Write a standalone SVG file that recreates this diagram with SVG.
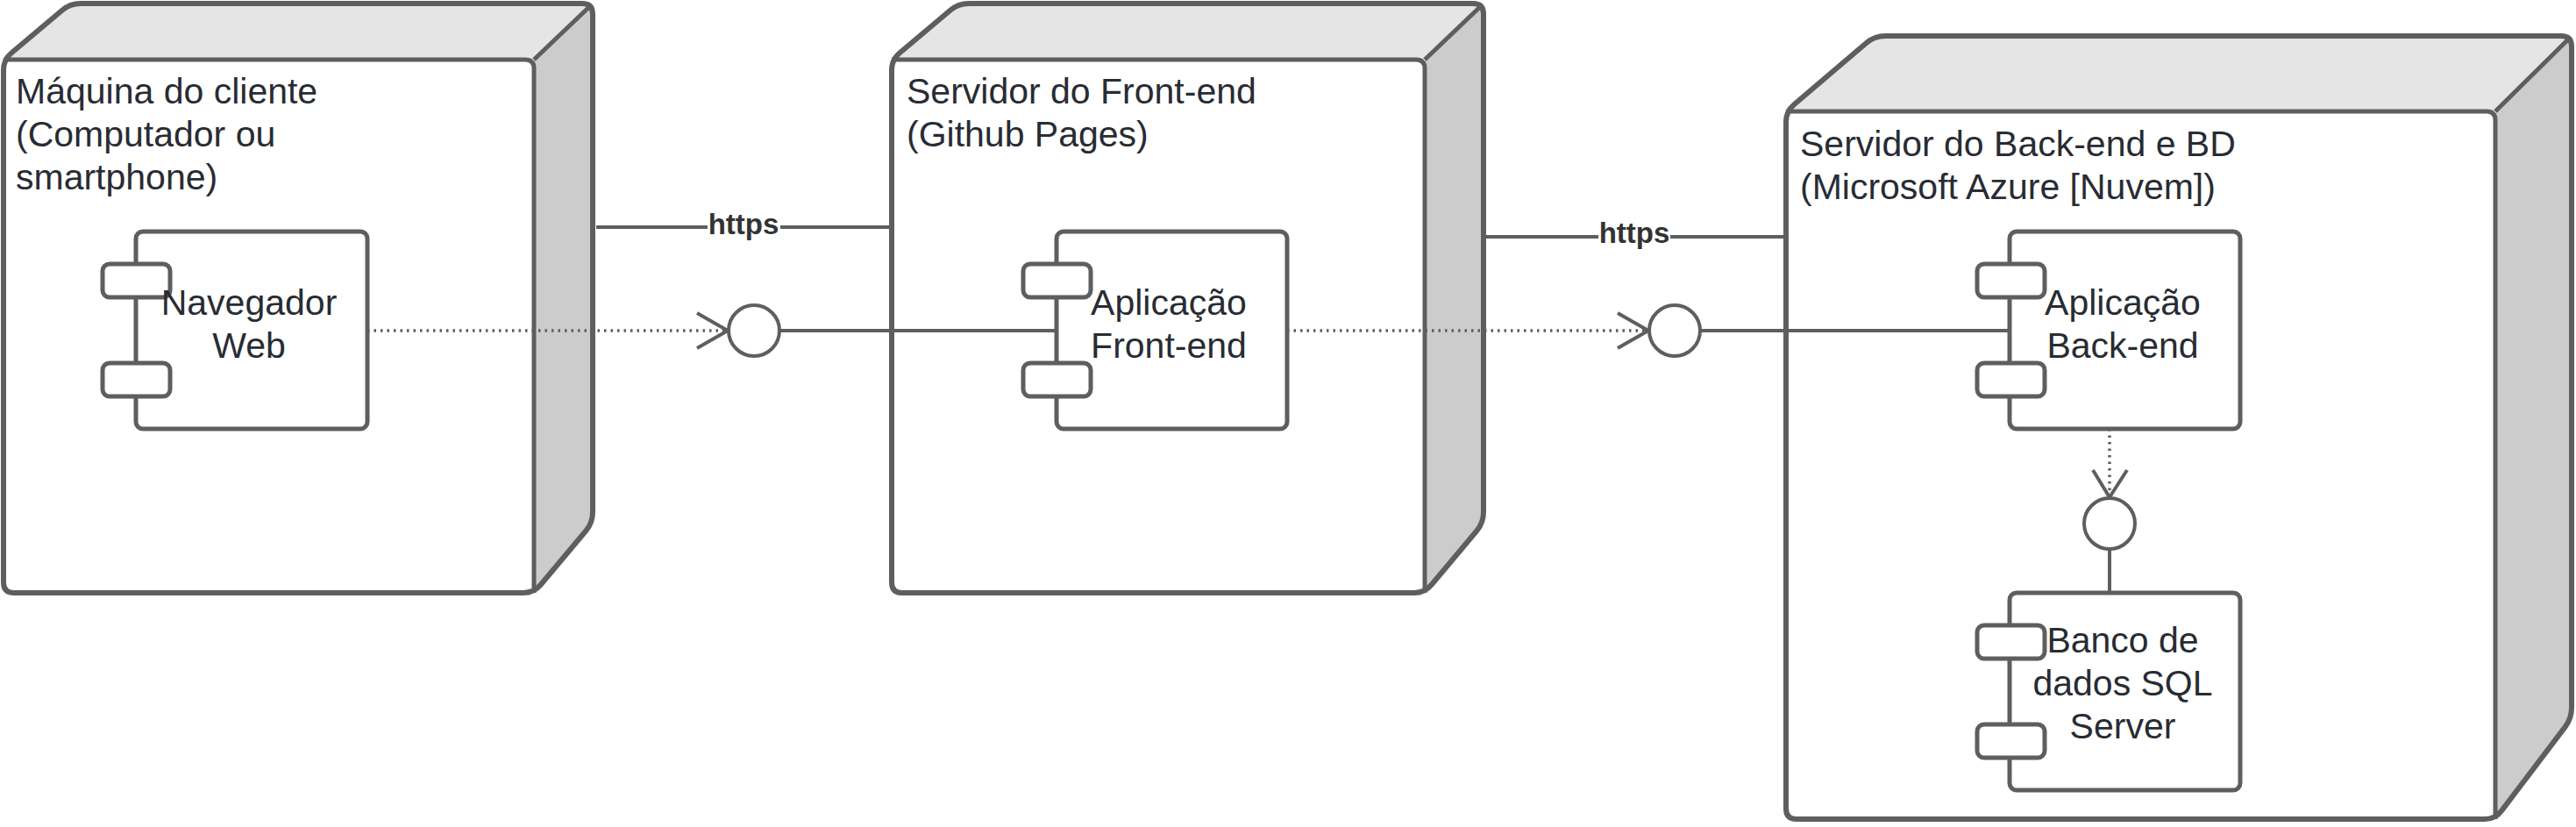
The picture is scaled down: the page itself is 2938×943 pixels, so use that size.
<svg xmlns="http://www.w3.org/2000/svg" width="2938" height="943" viewBox="0 0 2938 943">
<style>
.outline{fill:none;stroke:#5e5e5e;stroke-width:6;stroke-linejoin:round}
.inner{fill:none;stroke:#5e5e5e;stroke-width:5;stroke-linejoin:round}
.fw{fill:#ffffff}
.ft{fill:#e5e5e5}
.fs{fill:#cccccc}
.comp{fill:#ffffff;stroke:#5e5e5e;stroke-width:5}
.tab{fill:#ffffff;stroke:#5e5e5e;stroke-width:5}
.t{font-family:"Liberation Sans",Arial,sans-serif;font-size:41px;fill:#282c33}
.tc{font-family:"Liberation Sans",Arial,sans-serif;font-size:41px;fill:#282c33;text-anchor:middle}
.lbl{font-family:"Liberation Sans",Arial,sans-serif;font-size:33px;font-weight:bold;fill:#333333;text-anchor:middle}
.solid{fill:none;stroke:#5e5e5e;stroke-width:4}
.dot{fill:none;stroke:#5e5e5e;stroke-width:3.5;stroke-dasharray:2.5 5}
.arr{fill:none;stroke:#5e5e5e;stroke-width:4;stroke-linejoin:miter}
.iface{fill:#ffffff;stroke:#5e5e5e;stroke-width:4}
</style>
<defs>
<path id="o1" d="M4,664 L4,80 Q4,68 13.2,60.3 L70.8,11.7 Q80,4 92,4 L664,4 Q676,4 676,16 L676,584 Q676,596 668.3,605.2 L616.7,666.8 Q609,676 597,676 L16,676 Q4,676 4,664 Z"/>
<path id="o2" d="M1017,664 L1017,80 Q1017,68 1026.2,60.3 L1083.8,11.7 Q1093,4 1105,4 L1680,4 Q1692,4 1692,16 L1692,584 Q1692,596 1684.3,605.2 L1632.7,666.8 Q1625,676 1613,676 L1029,676 Q1017,676 1017,664 Z"/>
<path id="o3" d="M2037,922 L2037,139 Q2037,127 2046.1,119.2 L2128.9,48.8 Q2138,41 2150,41 L2921,41 Q2933,41 2933,53 L2933,807 Q2933,819 2925.8,828.6 L2853.2,924.4 Q2846,934 2834,934 L2049,934 Q2037,934 2037,922 Z"/>
<clipPath id="c1"><use href="#o1"/></clipPath>
<clipPath id="c2"><use href="#o2"/></clipPath>
<clipPath id="c3"><use href="#o3"/></clipPath>
</defs>

<g id="node-cliente">
<g clip-path="url(#c1)">
<polygon class="fw" points="4,68 609,68 609,676 4,676"/>
<polygon class="ft" points="4,68 80,4 676,4 609,68"/>
<polygon class="fs" points="609,68 676,4 676,596 609,676"/>
</g>
<path class="inner" d="M4,68 H599 Q609,68 609,78 V676 M609,68 L674,6"/>
<use href="#o1" class="outline"/>
<text class="t" x="18" y="118">Máquina do cliente</text>
<text class="t" x="18" y="167">(Computador ou</text>
<text class="t" x="18" y="216">smartphone)</text>
</g>

<g id="comp-navegador">
<rect class="comp" x="155" y="264" width="264" height="225" rx="8"/>
<rect class="tab" x="117" y="301" width="77" height="38" rx="8"/>
<rect class="tab" x="117" y="414" width="77" height="38" rx="8"/>
<text class="tc" x="284" y="359">Navegador</text>
<text class="tc" x="284" y="408">Web</text>
</g>

<g id="node-frontend">
<g clip-path="url(#c2)">
<polygon class="fw" points="1017,68 1625,68 1625,676 1017,676"/>
<polygon class="ft" points="1017,68 1093,4 1692,4 1625,68"/>
<polygon class="fs" points="1625,68 1692,4 1692,596 1625,676"/>
</g>
<path class="inner" d="M1017,68 H1615 Q1625,68 1625,78 V676 M1625,68 L1690,6"/>
<use href="#o2" class="outline"/>
<text class="t" x="1034" y="118">Servidor do Front-end</text>
<text class="t" x="1034" y="167">(Github Pages)</text>
</g>

<g id="comp-frontend">
<rect class="comp" x="1205" y="264" width="263" height="225" rx="8"/>
<rect class="tab" x="1167" y="301" width="77" height="38" rx="8"/>
<rect class="tab" x="1167" y="414" width="77" height="38" rx="8"/>
<text class="tc" x="1333" y="359">Aplicação</text>
<text class="tc" x="1333" y="408">Front-end</text>
</g>

<g id="node-backend">
<g clip-path="url(#c3)">
<polygon class="fw" points="2037,127 2846,127 2846,934 2037,934"/>
<polygon class="ft" points="2037,127 2138,41 2933,41 2846,127"/>
<polygon class="fs" points="2846,127 2933,41 2933,819 2846,934"/>
</g>
<path class="inner" d="M2037,127 H2836 Q2846,127 2846,137 V934 M2846,127 L2931,43"/>
<use href="#o3" class="outline"/>
<text class="t" x="2053" y="178">Servidor do Back-end e BD</text>
<text class="t" x="2053" y="227">(Microsoft Azure [Nuvem])</text>
</g>

<g id="comp-backend">
<rect class="comp" x="2292" y="264" width="263" height="225" rx="8"/>
<rect class="tab" x="2255" y="301" width="77" height="38" rx="8"/>
<rect class="tab" x="2255" y="414" width="77" height="38" rx="8"/>
<text class="tc" x="2421" y="359">Aplicação</text>
<text class="tc" x="2421" y="408">Back-end</text>
</g>

<g id="comp-banco">
<rect class="comp" x="2292" y="676" width="263" height="225" rx="8"/>
<rect class="tab" x="2255" y="713" width="77" height="38" rx="8"/>
<rect class="tab" x="2255" y="826" width="77" height="38" rx="8"/>
<text class="tc" x="2421" y="744">Banco de</text>
<text class="tc" x="2421" y="793">dados SQL</text>
<text class="tc" x="2421" y="842">Server</text>
</g>

<g id="connectors">
<path class="solid" d="M680,259 H807 M890,259 H1017"/>
<text class="lbl" x="848" y="267">https</text>
<path class="solid" d="M1694,270 H1823 M1905,270 H2037"/>
<text class="lbl" x="1864" y="277">https</text>

<path class="dot" d="M419,377 H829"/>
<path class="arr" d="M795,357 L830,377 L795,397"/>
<path class="solid" d="M889,377 H1205"/>

<path class="dot" d="M1468,377 H1879"/>
<path class="arr" d="M1845,357 L1880,377 L1845,397"/>
<path class="solid" d="M1939,377 H2292"/>

<path class="dot" d="M2406,489 V566"/>
<path class="arr" d="M2387,536 L2406,567 L2426,536"/>
<path class="solid" d="M2406,626 V676"/>
</g>

<g id="iface-1"><circle class="iface" cx="860" cy="377" r="29"/></g>
<g id="iface-2"><circle class="iface" cx="1910" cy="377" r="29"/></g>
<g id="iface-3"><circle class="iface" cx="2406" cy="597" r="29"/></g>
</svg>
